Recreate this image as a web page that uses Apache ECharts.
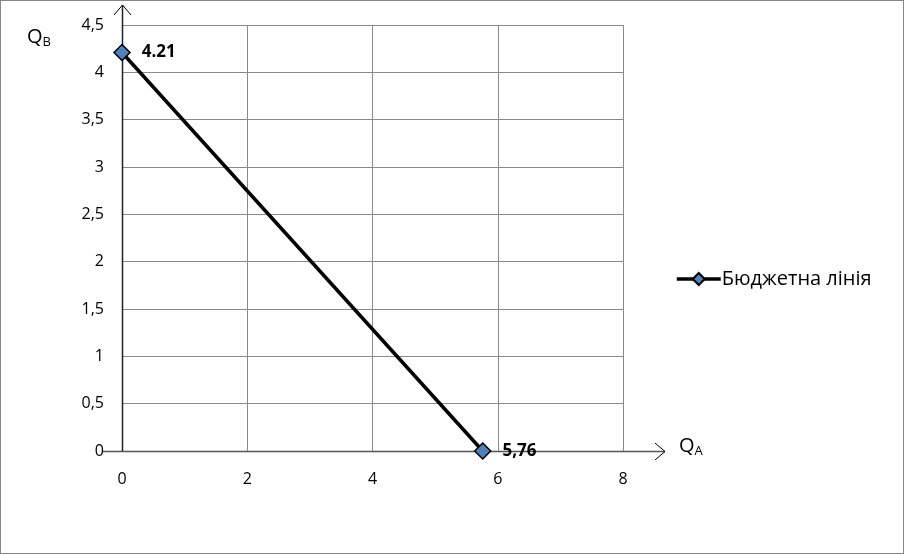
<!DOCTYPE html>
<html><head><meta charset="utf-8">
<script src="https://cdn.jsdelivr.net/npm/echarts@6/dist/echarts.min.js"></script>
<style>html,body{margin:0;padding:0;background:#fff}#c{width:904px;height:554px;box-sizing:border-box;border:1px solid #868686}</style>
</head><body><div id="c"></div>
<script>
const seriesName = 'Бюджетна лінія';
const xValues = [0, 5.76];
const yValues = [4.21, 0];
const pointLabels = ['4.21', '5,76'];
const xTicks = [0, 2, 4, 6, 8];
const yMax = 4.5;

const FONT = '"Open Sans","Noto Sans",sans-serif';
const chart = echarts.init(document.getElementById('c'), null, {renderer: 'canvas'});
const comma = v => String(v).replace('.', ',');
const option = {
  animation: false,
  grid: {left: 121, right: 280, top: 24, bottom: 102, containLabel: false},
  legend: {
    data: [{name: seriesName}], left: 669, top: 263, orient: 'vertical',
    itemWidth: 44, itemHeight: 15, itemGap: 4,
    lineStyle: {width: 3.5, color: '#000'},
    textStyle: {fontFamily: FONT, fontSize: 20, color: '#000', padding: [0, 0, 0, -4]}
  },
  xAxis: {
    type: 'value', min: xTicks[0], max: xTicks[xTicks.length - 1], interval: 2,
    axisLine: {show: false}, axisTick: {show: false},
    axisLabel: {fontFamily: FONT, fontSize: 16, color: '#000', margin: 20, formatter: comma},
    splitLine: {show: true, lineStyle: {color: '#8a8a8a', width: 1}}
  },
  yAxis: {
    type: 'value', min: 0, max: yMax, interval: 0.5,
    axisLine: {show: false}, axisTick: {show: false},
    axisLabel: {fontFamily: FONT, fontSize: 16, color: '#000', margin: 18, formatter: comma},
    splitLine: {show: true, lineStyle: {color: '#8a8a8a', width: 1}}
  },
  series: [{
    name: seriesName, type: 'line',
    data: xValues.map((x, i) => [x, yValues[i]]),
    lineStyle: {color: '#000', width: 3.5},
    symbol: 'diamond', symbolSize: 16,
    itemStyle: {color: '#4F81BD', borderColor: '#000', borderWidth: 1.5},
    label: {
      show: true, position: 'right', distance: 11,
      fontFamily: FONT, fontSize: 17, fontWeight: 'bold', color: '#000',
      formatter: p => pointLabels[p.dataIndex]
    },
    z: 5
  }]
};
chart.setOption(option);

const o = chart.convertToPixel({gridIndex: 0}, [0, 0]);
const xEnd = chart.convertToPixel({gridIndex: 0}, [8, 0])[0] + 42;
const yTop = chart.convertToPixel({gridIndex: 0}, [0, yMax])[1] - 20;
const ls = {stroke: '#000', lineWidth: 1};
const sub = {m: {fontFamily: FONT, fontSize: 20, fill: '#000'}, s: {fontFamily: FONT, fontSize: 13, fill: '#000', padding: [11, 0, 0, 0]}};
chart.setOption({
  graphic: [
    {type: 'line', shape: {x1: o[0] - 19, y1: o[1] + 0.5, x2: xEnd, y2: o[1] + 0.5}, style: {stroke: '#555', lineWidth: 1.5}, z: 3},
    {type: 'polyline', shape: {points: [[xEnd - 10, o[1] - 8], [xEnd, o[1] + 0.5], [xEnd - 10, o[1] + 9]]}, style: Object.assign({fill: null}, ls), z: 3},
    {type: 'line', shape: {x1: o[0] + 0.5, y1: o[1], x2: o[0] + 0.5, y2: yTop}, style: {stroke: '#222', lineWidth: 1.5}, z: 3},
    {type: 'polyline', shape: {points: [[o[0] - 8, yTop + 10], [o[0] + 0.5, yTop], [o[0] + 9, yTop + 10]]}, style: Object.assign({fill: null}, ls), z: 3},
    {type: 'text', left: xEnd + 14, top: o[1] - 15, style: {text: '{m|Q}{s|A}', rich: sub}},
    {type: 'text', left: 26, top: 26, style: {text: '{m|Q}{s|B}', rich: sub}}
  ]
});
</script></body></html>
